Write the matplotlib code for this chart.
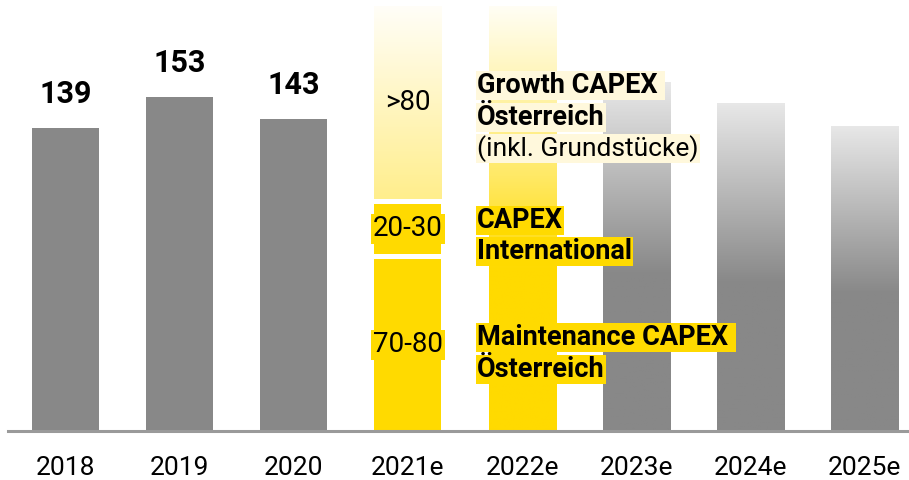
import numpy as np
import matplotlib
matplotlib.use("Agg")
import matplotlib.pyplot as plt
from matplotlib.colors import LinearSegmentedColormap

plt.rcParams['font.family'] = ['Roboto', 'DejaVu Sans']

years = ['2018', '2019', '2020', '2021e', '2022e', '2023e', '2024e', '2025e']
actual = [139, 153, 143]
# 2021e split into three parts
maint_2021 = 79
intl_2021 = 23
growth_2021 = 88.5
seg_labels = ['70-80', '20-30', '>80']
total_2022 = 195
outlook = [160, 150.5, 140]

GRAY = '#888888'
YELLOW = '#FFDA00'
CREAM = '#FFF8DC'
GAP = 2.3
W = 0.587


def gradient_bar(ax, x, bottom, height, stops):
    """bar filled with a vertical colour gradient"""
    bar = ax.bar(x, height, bottom=bottom, width=W, color='none', zorder=1)[0]
    cmap = LinearSegmentedColormap.from_list('g', stops)
    grad = np.linspace(0, 1, 256).reshape(-1, 1)
    im = ax.imshow(grad, cmap=cmap, origin='lower', aspect='auto', zorder=1,
                   extent=(x - W / 2, x + W / 2, bottom, bottom + height))
    im.set_clip_path(bar)


fig = plt.figure(figsize=(9.09, 4.8), dpi=100)
ax = fig.add_axes([8 / 909, 49 / 480, 901 / 909, 431 / 480])
x = np.arange(len(years))

# actuals
ax.bar(x[:3], actual, width=W, color=GRAY, zorder=1)
for xi, v in zip(x[:3], actual):
    ax.annotate(str(v), (xi, v), xytext=(0, 18), textcoords='offset points',
                ha='center', va='baseline', fontsize=22, fontweight='bold')

# 2021e stacked
b_intl = maint_2021 + GAP
b_growth = b_intl + intl_2021 + GAP
ax.bar(x[3], maint_2021, width=W, color=YELLOW, zorder=1)
ax.bar(x[3], intl_2021, bottom=b_intl, width=W, color=YELLOW, zorder=1)
gradient_bar(ax, x[3], b_growth, growth_2021,
             [(0, '#FFEE8C'), (1, '#FFFEF8')])

mids = [maint_2021 / 2, b_intl + intl_2021 / 2, b_growth + growth_2021 / 2]
for m, lab in zip(mids, seg_labels):
    bb = None
    if lab != '>80':
        bb = dict(boxstyle='square,pad=0.06', fc=YELLOW, ec='none')
    ax.text(x[3], m, lab, ha='center', va='center', fontsize=20, bbox=bb, zorder=3)

# 2022e
gradient_bar(ax, x[4], 0, total_2022,
             [(0, YELLOW), (0.38, YELLOW), (0.6, '#FFE966'), (1, '#FFFEF5')])

# 2023e - 2025e
for xi, v in zip(x[5:], outlook):
    gradient_bar(ax, xi, 0, v, [(0, GRAY), (0.45, GRAY), (1, '#E8E8E8')])

# labels next to 2021e
groups = [
    (mids[2] - 7, CREAM, [('Growth CAPEX ', 'bold'), ('Österreich', 'bold'),
                          ('(inkl. Grundstücke)', 'normal')]),
    (mids[1] - 3.4, YELLOW, [('CAPEX', 'bold'), ('International', 'bold')]),
    (mids[0] - 4, YELLOW, [('Maintenance CAPEX ', 'bold'), ('Österreich', 'bold')]),
]
lx = 3.605
step = 22.7
for ymid, fc, lines in groups:
    n = len(lines)
    for i, (txt, wt) in enumerate(lines):
        off = ((n - 1) / 2 - i) * step
        fs = 19.5 if wt == 'bold' else 19
        ax.annotate(txt, (lx, ymid), xytext=(0, off), textcoords='offset points',
                    ha='left', va='center', fontsize=fs, fontweight=wt, zorder=3,
                    bbox=dict(boxstyle='square,pad=0.04', fc=fc, ec='none'))

ax.set_xlim((8 - 65.5) / 114.14, (909 - 65.5) / 114.14)
ax.set_ylim(0, 431 / 2.18)
ax.set_xticks(x)
ax.set_xticklabels(years, fontsize=19)
ax.tick_params(axis='x', length=0, pad=18)
ax.set_yticks([])
for s in ['top', 'left', 'right']:
    ax.spines[s].set_visible(False)
ax.spines['bottom'].set_color('#9A9A9A')
ax.spines['bottom'].set_linewidth(2.2)
ax.spines['bottom'].set_zorder(4)

fig.savefig('out.png', dpi=100)
